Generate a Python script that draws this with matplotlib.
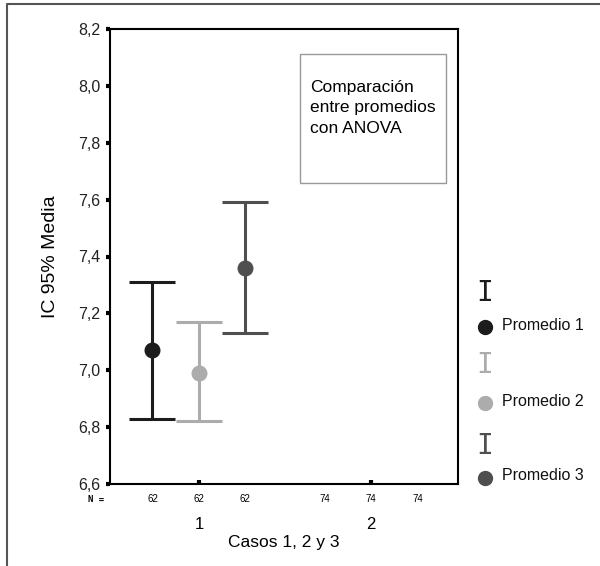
import matplotlib.pyplot as plt
from matplotlib.lines import Line2D
import numpy as np

plt.rcParams['font.family'] = ['Liberation Sans', 'DejaVu Sans']

# datos (IC 95% de la media)
casos = [1, 2]
series = ['Promedio 1', 'Promedio 2', 'Promedio 3']
medias = [7.07, 6.99, 7.36]
ic_inf = [6.83, 6.82, 7.13]
ic_sup = [7.31, 7.17, 7.59]
n_caso1 = [62, 62, 62]
n_caso2 = [74, 74, 74]
colores = ['#1c1c1c', '#acacac', '#4f4f4f']
yticks = [6.6, 6.8, 7.0, 7.2, 7.4, 7.6, 7.8, 8.0, 8.2]

fig = plt.figure(figsize=(6, 5.66), dpi=100)
ax = fig.add_axes([110/600, 1-484/566, 348/600, 455/566])

offs = [-0.27, 0.0, 0.27]
for i, s in enumerate(series):
    x = casos[0] + offs[i]
    m = medias[i]
    ax.errorbar(x, m, yerr=[[m - ic_inf[i]], [ic_sup[i] - m]], fmt='o',
                color=colores[i], ms=10.5, elinewidth=2.2, capsize=16.5,
                capthick=2.2)

ax.set_xlim(0.483, 2.506)
ax.set_ylim(6.6, 8.2)
ax.set_yticks(yticks)
ax.set_yticklabels([f'{v:.1f}'.replace('.', ',') for v in yticks],
                   fontsize=11.5, color='#222222')
ax.set_xticks(casos)
ax.set_xticklabels(['1', '2'], fontsize=12)
ax.tick_params(axis='y', length=3, width=3, direction='out', pad=4)
ax.tick_params(axis='x', length=3, width=3, direction='in', pad=24)
for sp in ax.spines.values():
    sp.set_linewidth(1.5)
    sp.set_color('black')

ax.set_ylabel('IC 95% Media', fontsize=14, labelpad=14)
ax.set_xlabel('Casos 1, 2 y 3', fontsize=12.5, labelpad=2)

# fila de N
trans = ax.get_xaxis_transform()
ax.text(0.45, -0.033, 'N =', transform=trans, fontsize=6.5, ha='right',
        va='center', fontweight='bold', family='DejaVu Sans Mono')
for i in range(3):
    ax.text(casos[0] + offs[i], -0.033, str(n_caso1[i]), transform=trans,
            fontsize=7, ha='center', va='center')
    ax.text(casos[1] + offs[i], -0.033, str(n_caso2[i]), transform=trans,
            fontsize=7, ha='center', va='center')

# recuadro de texto
ax.text(310/600, 1-80/566, 'Comparación\nentre promedios\ncon ANOVA',
        transform=fig.transFigure, fontsize=12.5, va='top', ha='left',
        linespacing=1.45)
fig.patches.append(plt.Rectangle((300/600, 1-183/566), 146/600, 129/566,
                                 transform=fig.transFigure, fill=False,
                                 edgecolor='#999999', lw=1))

# leyenda manual
ley_y_i = [293, 365, 446]
ley_y_p = [327, 403, 478]
for i, s in enumerate(series):
    fig.text(485/600, 1-ley_y_i[i]/566, 'I', color=colores[i], fontsize=20,
             ha='center', va='center', family='DejaVu Sans Mono')
    fig.add_artist(Line2D([485/600], [1-ley_y_p[i]/566], marker='o',
                          color=colores[i], ms=10, transform=fig.transFigure))
    fig.text(502/600, 1-(ley_y_p[i]-2)/566, s, fontsize=11.5, ha='left',
             va='center', color='#111111')

# marco exterior
fig.add_artist(Line2D([7/600, 7/600, 1.0], [0.0, 1-4/566, 1-4/566],
                      color='#555555', lw=1.5, transform=fig.transFigure))

fig.savefig('out.png', dpi=100)
